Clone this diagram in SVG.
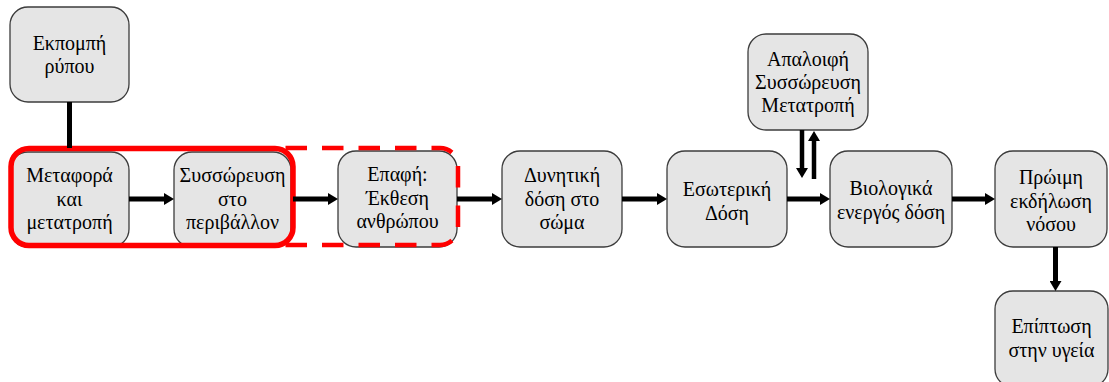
<svg xmlns="http://www.w3.org/2000/svg" width="1109" height="382" viewBox="0 0 1109 382">
<style>
.box{fill:#e5e5e5;stroke:#3c3c3c;stroke-width:1.3}
.t{font-family:'Liberation Serif','Times New Roman',serif;font-size:20px;fill:#000;text-anchor:middle}
.c{stroke:#000;stroke-width:5;fill:none}
.cv{stroke:#000;stroke-width:4.5;fill:none}
.red{fill:none;stroke:#ff0000;stroke-width:5.5}
.dash{fill:none;stroke:#ff0000;stroke-width:4.5;stroke-dasharray:21.5 15}
</style>
<defs>
<marker id="ah" markerUnits="userSpaceOnUse" markerWidth="10" markerHeight="12" refX="2" refY="6" orient="auto">
<path d="M0,0 L10,6 L0,12 z" fill="#000"/>
</marker>
</defs>
<rect width="1109" height="382" fill="#fff"/>

<g id="n1"><rect class="box" x="10" y="7" width="119" height="95" rx="18"/>
<text class="t" x="69.5" y="50">Εκπομπή</text><text class="t" x="69.5" y="73">ρύπου</text></g>

<g id="n2"><rect class="box" x="10" y="152" width="119" height="95" rx="18"/>
<text class="t" x="69.5" y="182">Μεταφορά</text><text class="t" x="69.5" y="206">και</text><text class="t" x="69.5" y="229">μετατροπή</text></g>

<g id="n3"><rect class="box" x="174" y="152" width="117" height="95" rx="18"/>
<text class="t" x="232.5" y="182">Συσσώρευση</text><text class="t" x="232.5" y="206">στο</text><text class="t" x="232.5" y="229">περιβάλλον</text></g>

<g id="n4"><rect class="box" x="338" y="151" width="119" height="96" rx="18"/>
<text class="t" x="397.5" y="181">Επαφή:</text><text class="t" x="397.5" y="205">Έκθεση</text><text class="t" x="397.5" y="228">ανθρώπου</text></g>

<g id="n5"><rect class="box" x="502" y="151" width="120" height="96" rx="18"/>
<text class="t" x="562" y="182">Δυνητική</text><text class="t" x="562" y="206">δόση στο</text><text class="t" x="562" y="229">σώμα</text></g>

<g id="n6"><rect class="box" x="667" y="151" width="120" height="96" rx="18"/>
<text class="t" x="727" y="196">Εσωτερική</text><text class="t" x="727" y="220">Δόση</text></g>

<g id="n7"><rect class="box" x="748" y="34" width="120" height="96" rx="18"/>
<text class="t" x="808" y="66">Απαλοιφή</text><text class="t" x="808" y="89">Συσσώρευση</text><text class="t" x="808" y="112">Μετατροπή</text></g>

<g id="n8"><rect class="box" x="830" y="151" width="122" height="96" rx="18"/>
<text class="t" x="891" y="195">Βιολογικά</text><text class="t" x="891" y="219">ενεργός δόση</text></g>

<g id="n9"><rect class="box" x="995" y="151" width="112" height="96" rx="18"/>
<text class="t" x="1051" y="184">Πρώιμη</text><text class="t" x="1051" y="208">εκδήλωση</text><text class="t" x="1051" y="231">νόσου</text></g>

<g id="n10"><rect class="box" x="995" y="291" width="113" height="96" rx="18"/>
<text class="t" x="1051.5" y="333">Επίπτωση</text><text class="t" x="1051.5" y="357">στην υγεία</text></g>

<g id="groups">
<rect class="red" x="11" y="148.5" width="282" height="97" rx="18"/>
<path class="dash" d="M285.5,148 H440 A18,18 0 0 1 458,166 V196.5"/>
<path class="dash" d="M285.5,245 H440 A18,18 0 0 0 458,227 V196.5"/>
</g>

<g id="connectors">
<line class="c" x1="69.5" y1="102" x2="69.5" y2="148"/>
<line class="c" x1="129" y1="199" x2="166" y2="199" marker-end="url(#ah)"/>
<line class="c" x1="293" y1="199" x2="330" y2="199" marker-end="url(#ah)"/>
<line class="c" x1="457" y1="199" x2="494" y2="199" marker-end="url(#ah)"/>
<line class="c" x1="622" y1="199" x2="659" y2="199" marker-end="url(#ah)"/>
<line class="c" x1="787" y1="199" x2="822" y2="199" marker-end="url(#ah)"/>
<line class="c" x1="952" y1="199" x2="987" y2="199" marker-end="url(#ah)"/>
<line class="c" x1="1055.5" y1="247" x2="1055.5" y2="283" marker-end="url(#ah)"/>
<line class="cv" x1="802" y1="130" x2="802" y2="170" marker-end="url(#ah)"/>
<line class="cv" x1="814" y1="179" x2="814" y2="139" marker-end="url(#ah)"/>
</g>
</svg>
